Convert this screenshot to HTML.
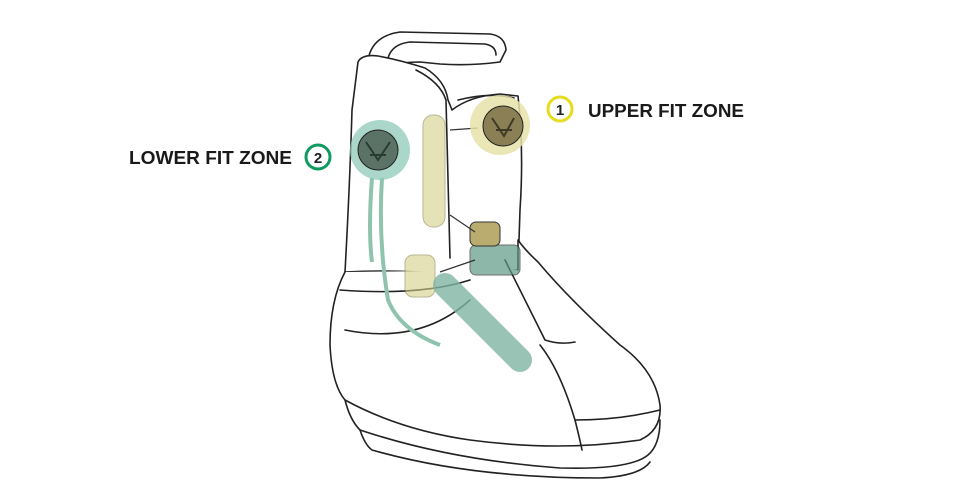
<!DOCTYPE html>
<html><head><style>
html,body{margin:0;padding:0;background:#fff;width:970px;height:503px;overflow:hidden}
svg{display:block}
text{font-family:"Liberation Sans",Arial,sans-serif;font-weight:bold}
</style></head><body>
<svg width="970" height="503" viewBox="0 0 970 503">
<g fill="none" stroke="#222" stroke-width="1.6" stroke-linejoin="round" stroke-linecap="round">
<path d="M368 60 Q372 36 400 32 L490 34 Q505 36 506 50 L500 62 Q470 66 440 64 L420 62 Q395 62 378 70 Z" fill="#fff"/>
<path d="M388 58 Q392 44 410 42 L485 44 Q496 46 496 55"/>
<path d="M358 62 Q362 54 378 56 Q400 60 425 68 Q445 80 448 100 L452 110 Q470 96 500 94 L518 96 Q524 150 520 210 L518 270 Q470 276 420 272 Q380 270 345 272 Q350 180 352 110 Z" fill="#fff"/>
<path d="M416 70 Q440 82 446 100 L450 258"/>
<path d="M458 100 Q490 92 514 98"/>
<path d="M345 272 Q330 300 330 345 Q332 385 345 400 Q400 430 470 440 Q560 452 640 440 Q662 430 660 405 Q655 370 620 345 Q570 300 538 262 Q525 250 518 240 L518 270" fill="#fff"/>
<path d="M345 330 Q420 345 470 300"/>
<path d="M345 400 Q350 420 360 430 Q450 460 560 468 Q630 470 648 455 Q660 445 660 420"/>
<path d="M360 430 Q365 445 372 450 Q470 478 600 478 Q640 476 650 462"/>
<path d="M540 345 Q560 370 575 420 Q580 440 582 450"/>
<path d="M575 420 Q620 420 660 410"/>
<path d="M505 260 L545 340 Q560 345 575 342"/>
<path d="M340 290 Q420 296 470 280"/>
</g>
<rect x="423" y="115" width="22" height="112" rx="10" fill="#d6d08a" opacity=".6" stroke="#8a8550"/>
<rect x="405" y="255" width="30" height="42" rx="8" fill="#d6d08a" opacity=".6" stroke="#8a8550"/>
<rect x="470" y="245" width="50" height="30" rx="6" fill="#5d9a85" opacity=".7" stroke="#333"/>
<rect x="470" y="222" width="30" height="24" rx="6" fill="#b9ac6e" stroke="#333"/>
<path d="M445 285 L520 360" stroke="#7fb5a2" stroke-width="24" stroke-linecap="round" opacity=".8" fill="none"/>
<g stroke="#333" stroke-width="1.2" fill="none">
<path d="M450 130 L478 128 M450 215 L475 232 M440 272 L475 260"/>
</g>
<path d="M372 178 Q368 230 372 262 M382 178 Q378 240 388 300 Q400 330 440 345" stroke="#8fc3ae" stroke-width="4" fill="none"/>
<circle cx="380" cy="150" r="30" fill="#8fcab8" opacity=".75"/>
<circle cx="378" cy="150" r="20" fill="#5b7366" stroke="#222"/>
<path d="M366 142 L378 160 L390 142 M370 155 L386 155" stroke="#2b3a33" stroke-width="2" fill="none"/>
<circle cx="500" cy="125" r="30" fill="#e7e2a8" opacity=".85"/>
<circle cx="503" cy="126" r="20" fill="#8a7f55" stroke="#222"/>
<path d="M492 118 L504 136 L514 118 M496 130 L512 130" stroke="#3f3a25" stroke-width="2" fill="none"/>
<circle cx="560" cy="109" r="12" fill="none" stroke="#e6dc1e" stroke-width="3"/>
<text x="560" y="115" font-size="15" text-anchor="middle" fill="#222">1</text>
<text x="588" y="117" font-size="18.5" fill="#1a1a1a" textLength="156" lengthAdjust="spacingAndGlyphs">UPPER FIT ZONE</text>
<circle cx="318" cy="157" r="12" fill="none" stroke="#119a60" stroke-width="3"/>
<text x="318" y="163" font-size="15" text-anchor="middle" fill="#222">2</text>
<text x="129" y="164" font-size="18.5" fill="#1a1a1a" textLength="163" lengthAdjust="spacingAndGlyphs">LOWER FIT ZONE</text>
</svg>
</body></html>
